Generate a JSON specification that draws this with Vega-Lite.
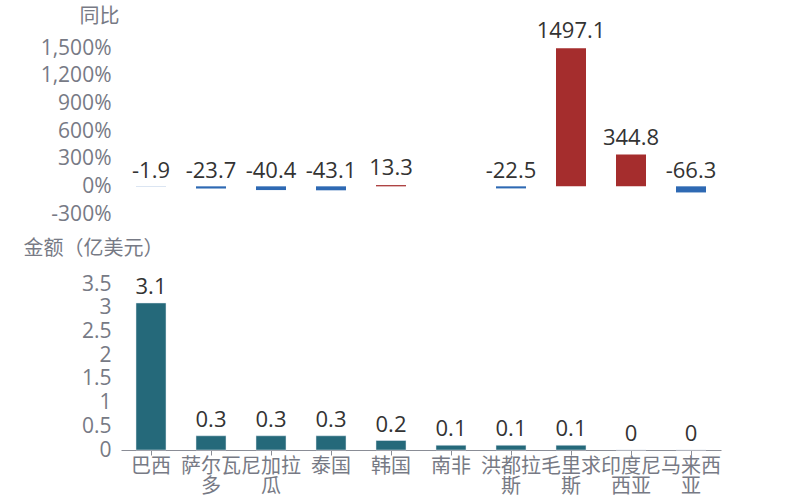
{
  "$schema": "https://vega.github.io/schema/vega-lite/v6.json",
  "background": "white",
  "padding": {"left": 22, "top": 5, "right": 5, "bottom": 5},
  "bounds": "flush",
  "spacing": 70,
  "config": {
    "view": {"stroke": "transparent"},
    "font": "Open Sans, Noto Sans CJK SC",
    "axis": {
      "labelFont": "Open Sans, Noto Sans CJK SC",
      "titleFont": "Open Sans, Noto Sans CJK SC",
      "labelFontSize": 20,
      "titleFontSize": 20,
      "labelColor": "#777a85",
      "titleColor": "#777a85",
      "titleFontWeight": "normal",
      "labelOverlap": false,
      "grid": false
    }
  },
  "data": {
    "values": [
      {"country": "巴西", "amount": 3.1, "yoy": -1.9},
      {"country": "萨尔瓦多", "amount": 0.3, "yoy": -23.7},
      {"country": "尼加拉瓜", "amount": 0.3, "yoy": -40.4},
      {"country": "泰国", "amount": 0.3, "yoy": -43.1},
      {"country": "韩国", "amount": 0.2, "yoy": 13.3},
      {"country": "南非", "amount": 0.1, "yoy": null},
      {"country": "洪都拉斯", "amount": 0.1, "yoy": -22.5},
      {"country": "毛里求斯", "amount": 0.1, "yoy": 1497.1},
      {"country": "印度尼西亚", "amount": 0.0, "yoy": 344.8},
      {"country": "马来西亚", "amount": 0.0, "yoy": -66.3}
    ]
  },
  "vconcat": [
    {
      "width": 600,
      "height": 166,
      "encoding": {
        "x": {
          "field": "country",
          "type": "nominal",
          "sort": null,
          "axis": null,
          "scale": {
            "domain": ["巴西", "萨尔瓦多", "尼加拉瓜", "泰国", "韩国", "南非", "洪都拉斯", "毛里求斯", "印度尼西亚", "马来西亚"],
            "paddingInner": 0.5,
            "paddingOuter": 0.25
          }
        }
      },
      "layer": [
        {
          "transform": [{"filter": "isValid(datum.yoy)"}],
          "mark": {"type": "bar"},
          "encoding": {
            "y": {
              "field": "yoy",
              "type": "quantitative",
              "scale": {"domain": [-300, 1500], "nice": false},
              "axis": {
                "values": [-300, 0, 300, 600, 900, 1200, 1500],
                "tickCount": 10,
                "labelExpr": "replace(format(datum.value, ','), '\u2212', '-') + '%'",
                "labelFontSize": 21,
                "labelOverlap": false,
                "domain": false,
                "ticks": false,
                "labelPadding": 10,
                "title": "同比",
                "titleAngle": 0,
                "titleAlign": "right",
                "titleBaseline": "middle",
                "titleX": -2,
                "titleY": -32
              }
            },
            "color": {
              "condition": {"test": "datum.yoy >= 0", "value": "#a52d2d"},
              "value": "#2e69b3"
            }
          }
        },
        {
          "transform": [{"filter": "isValid(datum.yoy) && datum.yoy >= 0"}],
          "mark": {"type": "text", "baseline": "bottom", "dy": -5, "fontSize": 22, "color": "#333333"},
          "encoding": {
            "y": {"field": "yoy", "type": "quantitative"},
            "text": {"field": "yoy", "type": "nominal"}
          }
        },
        {
          "transform": [{"filter": "isValid(datum.yoy) && datum.yoy < 0"}],
          "mark": {"type": "text", "baseline": "bottom", "dy": -3, "fontSize": 22, "color": "#333333"},
          "encoding": {
            "y": {"datum": 0, "type": "quantitative"},
            "text": {"field": "yoy", "type": "nominal"}
          }
        }
      ]
    },
    {
      "width": 600,
      "height": 166,
      "encoding": {
        "x": {
          "field": "country",
          "type": "nominal",
          "sort": null,
          "scale": {
            "domain": ["巴西", "萨尔瓦多", "尼加拉瓜", "泰国", "韩国", "南非", "洪都拉斯", "毛里求斯", "印度尼西亚", "马来西亚"],
            "paddingInner": 0.5,
            "paddingOuter": 0.25
          },
          "axis": {
            "title": null,
            "labelAngle": 0,
            "domainColor": "#8a8d96",
            "tickColor": "#8a8d96",
            "tickSize": 5,
            "labelPadding": 1,
            "labelLineHeight": 20,
            "labelExpr": "length(datum.label) > 3 ? [substring(datum.label, 0, 3), substring(datum.label, 3)] : datum.label"
          }
        }
      },
      "layer": [
        {
          "mark": {"type": "bar", "color": "#25697a", "stroke": "#e4ebf2", "strokeWidth": 0.5},
          "encoding": {
            "y": {
              "field": "amount",
              "type": "quantitative",
              "scale": {"domain": [0, 3.5], "nice": false},
              "axis": {
                "values": [0, 0.5, 1, 1.5, 2, 2.5, 3, 3.5],
                "tickCount": 10,
                "labelExpr": "'' + datum.value",
                "labelFontSize": 21,
                "labelOverlap": false,
                "domain": false,
                "ticks": false,
                "labelPadding": 10,
                "title": "金额（亿美元）",
                "titleAngle": 0,
                "titleAlign": "left",
                "titleBaseline": "middle",
                "titleX": -98,
                "titleY": -36
              }
            }
          }
        },
        {
          "mark": {"type": "text", "baseline": "bottom", "dy": -4, "fontSize": 22, "color": "#333333"},
          "encoding": {
            "y": {"field": "amount", "type": "quantitative"},
            "text": {"field": "amount", "type": "nominal"}
          }
        }
      ]
    }
  ]
}
